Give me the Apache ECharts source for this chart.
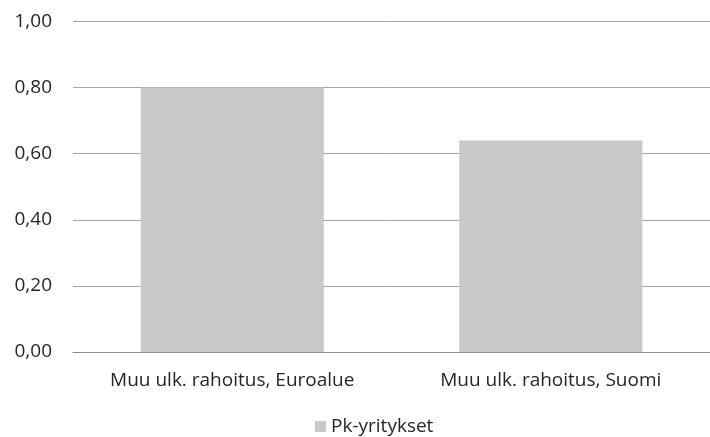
<!DOCTYPE html>
<html><head><meta charset="utf-8">
<script src="https://cdn.jsdelivr.net/npm/echarts@6/dist/echarts.min.js"></script>
<style>html,body{margin:0;padding:0;background:#fff}#c{width:710px;height:437px}</style>
</head><body><div id="c"></div>
<script>
const categories = ["Muu ulk. rahoitus, Euroalue", "Muu ulk. rahoitus, Suomi"];
const seriesName = "Pk-yritykset";
const values = [0.80, 0.64];
const yMin = 0, yMax = 1.0, yInterval = 0.2;

const chart = echarts.init(document.getElementById('c'), null, {renderer: 'canvas'});
const font = '"Open Sans", "DejaVu Sans", sans-serif';
chart.setOption({
  animation: false,
  textStyle: {fontFamily: font},
  grid: {left: 73, right: -8, top: 21.5, bottom: 85, containLabel: false},
  legend: {
    data: [seriesName], top: 412, left: 310, icon: 'rect',
    itemWidth: 11, itemHeight: 11, itemGap: 5,
    textStyle: {fontSize: 19, color: '#262626', fontFamily: font}
  },
  xAxis: {
    type: 'category', data: categories,
    axisLine: {lineStyle: {color: '#8c8c8c', width: 1}},
    axisTick: {show: false},
    axisLabel: {fontSize: 19, color: '#262626', margin: 19, fontFamily: font}
  },
  yAxis: {
    type: 'value', min: yMin, max: yMax, interval: yInterval,
    axisLine: {show: false}, axisTick: {show: false},
    splitLine: {lineStyle: {color: '#a6a6a6', width: 1}},
    axisLabel: {fontSize: 19, color: '#262626', margin: 21, fontFamily: font,
      formatter: v => v.toFixed(2).replace('.', ',')}
  },
  series: [{
    name: seriesName, type: 'bar', data: values,
    barCategoryGap: '42.5%',
    itemStyle: {color: '#c9c9c9'}
  }]
});
</script></body></html>
